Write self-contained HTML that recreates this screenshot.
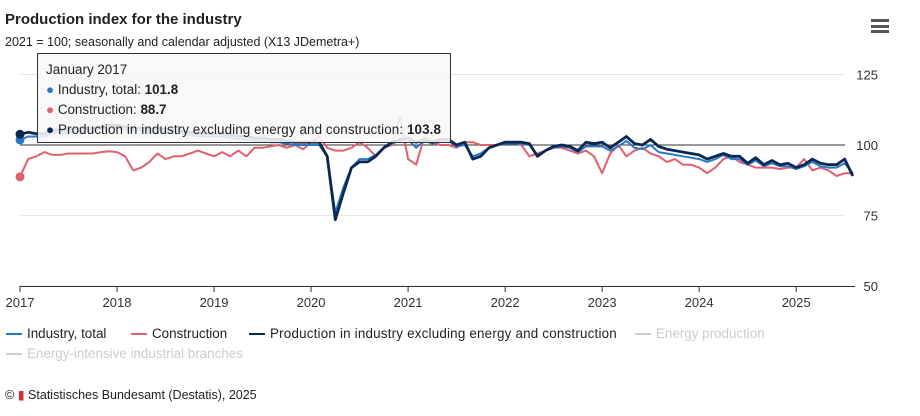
<!DOCTYPE html>
<html><head><meta charset="utf-8"><style>
body{margin:0;background:#fff;font-family:"Liberation Sans",sans-serif;}
#wrap{position:relative;width:920px;height:416px;overflow:hidden;}
.t{position:absolute;white-space:nowrap;color:#222;}
</style></head><body>
<div id="wrap">
<div class="t" style="left:5px;top:11px;font-size:15px;font-weight:bold;">Production index for the industry</div>
<div class="t" style="left:5px;top:35px;font-size:12.5px;">2021 = 100; seasonally and calendar adjusted (X13 JDemetra+)</div>
<div style="position:absolute;left:871px;top:19px;width:18px;height:14px;">
<div style="height:3px;background:#555;margin-bottom:2.5px"></div><div style="height:3px;background:#555;margin-bottom:2.5px"></div><div style="height:3px;background:#555"></div></div>
<svg id="chart" width="920" height="416" style="position:absolute;left:0;top:0"></svg>
<div style="position:absolute;left:37px;top:53px;width:412px;height:88px;background:rgba(247,247,247,0.88);border:1px solid #333;font-size:13.4px;color:#222;">
<div style="position:absolute;left:8px;top:8px">January 2017</div>
<div style="position:absolute;left:8px;top:28px"><span style="color:#2a78c8">●</span> Industry, total: <b>101.8</b></div>
<div style="position:absolute;left:8px;top:48px"><span style="color:#e0606e">●</span> Construction: <b>88.7</b></div>
<div style="position:absolute;left:8px;top:68px;letter-spacing:0.1px"><span style="color:#0b2850">●</span> Production in industry excluding energy and construction: <b>103.8</b></div>
</div>
<div class="t" style="left:6px;top:326px;font-size:13.4px"><span style="display:inline-block;width:16px;height:2px;background:#2a78c8;vertical-align:middle;margin-right:5px"></span>Industry, total</div>
<div class="t" style="left:131px;top:326px;font-size:13.4px"><span style="display:inline-block;width:16px;height:2px;background:#e0606e;vertical-align:middle;margin-right:5px"></span>Construction</div>
<div class="t" style="left:249px;top:326px;font-size:13.4px;letter-spacing:0.2px"><span style="display:inline-block;width:16px;height:2px;background:#0b2850;vertical-align:middle;margin-right:5px"></span>Production in industry excluding energy and construction</div>
<div class="t" style="left:635px;top:326px;font-size:13.4px;color:#ccc"><span style="display:inline-block;width:16px;height:2px;background:#ccc;vertical-align:middle;margin-right:5px"></span>Energy production</div>
<div class="t" style="left:6px;top:346px;font-size:13.4px;color:#ccc"><span style="display:inline-block;width:16px;height:2px;background:#ccc;vertical-align:middle;margin-right:5px"></span>Energy-intensive industrial branches</div>
<div class="t" style="left:5px;top:387px;font-size:12.5px">© <span style="color:#c33">▮</span> Statistisches Bundesamt (Destatis), 2025</div>
</div>
<script>
const years=["2017","2018","2019","2020","2021","2022","2023","2024","2025"];
const yTicks=[50,75,100,125];
const construction=[88.7,95,96,97.5,96.5,96.5,97,97,97,97,97.5,97.8, 97.5,96,91,92,94,97,95,96,96,97,98,97, 96,97.5,96,98,96,99,99,99.5,100,99,100,98.5, 101,103,99,98,98,99,101,99,96,99,100,110, 95,93,103,101,100,100,99,101,101,100,100,100, 101,101,100,96,97,98,99,99,98,97,98,96, 90,97,100,96,98,99,97,96,94,95,93,93, 92,90,92,95,96,94,93,92,92,92,91.5,92, 92,95,91,92,91,89,90,90];
const industryExcl=[103.8,104.5,104,104,105,105.5,105.5,106,106,106,106.5,107, 107,106.5,106,106,105.5,106,105.5,105,105,104.5,104,104, 104,104,103.5,103,103,102.5,102.5,102,102,101.5,101,101, 101,101,96,73.5,83,92,94,94,96,99,101,102, 102.5,101,102,101,102,102,100,101,95,96,99,100, 101,101,101,100.5,96,98,99.5,100,99.5,98,101,100.5, 101,99,101,103,100.5,100,102,99.5,98.5,98,97.5,97, 96.5,95,96,97,96,96,93.5,95.5,93,94.5,93,93.5, 92,93,95,93.5,93,93,95,89];
const industryTotal=[101.8,103,103,103,104,104.5,104.5,105,105,105,105.5,106, 106,105.5,105,105,104.5,105,104.5,104,104,103.5,103,103, 103,103,102.5,102,102,101.5,101.5,101,101,100.5,100,100, 100,100,96,76,85,92,95,95,96.5,99,100.5,101.5, 102,99,101.5,100.5,101.5,101.5,99.5,100,96,97,99,100, 100.5,100.5,100.5,100,96.5,98,99,99.5,99,97.5,99.5,99.5, 99.5,98,99.5,101.5,99,98.5,100,97.5,97,96.5,96,95.5, 95,94,95,96.5,95,95,93,94.5,92.5,93.5,92.5,92.5, 91.5,92.5,94,92.5,92,92,93.5,90];
const svg=document.getElementById('chart');const NS='http://www.w3.org/2000/svg';
const x=i=>20+i*8.085, y=v=>286-(v-50)*2.82;
function el(t,a){const e=document.createElementNS(NS,t);for(const k in a)e.setAttribute(k,a[k]);svg.appendChild(e);return e;}
yTicks.forEach(v=>{
 const g=el('line',{x1:20,x2:845,y1:y(v),y2:y(v),stroke:v===100?'#333':'#e6e6e6','stroke-width':1});
 
 
 const tx=el('text',{x:878,y:y(v)+5,'text-anchor':'end','font-size':13,fill:'#333','font-family':'Liberation Sans'});
 tx.textContent=v;
 
 
});
const ax=el('line',{x1:20,x2:855,y1:286.5,y2:286.5,stroke:'#333'});


years.forEach((yr,i)=>{
 const xx=x(i*12);
 const tk=el('line',{x1:xx,x2:xx,y1:286,y2:292,stroke:'#333'});
 
 
 const tx=el('text',{x:xx,y:307,'text-anchor':'middle','font-size':13,fill:'#333','font-family':'Liberation Sans'});
 tx.textContent=yr;
 
 
});
[[construction,'#e0606e',2,'line-construction'],[industryTotal,'#2a78c8',2,'line-industry-total'],[industryExcl,'#0b2850',2.8,'line-industry-excl']].forEach(([d,c,w,n])=>{
 const p=el('path',{d:d.map((v,i)=>(i?'L':'M')+x(i).toFixed(1)+','+y(v).toFixed(1)).join(''),fill:'none',stroke:c,'stroke-width':w,'stroke-linejoin':'round'});
 
 
 const m=el('circle',{cx:x(0),cy:y(d[0]),r:4.5,fill:c});
 
 
});
</script>
</body></html>
